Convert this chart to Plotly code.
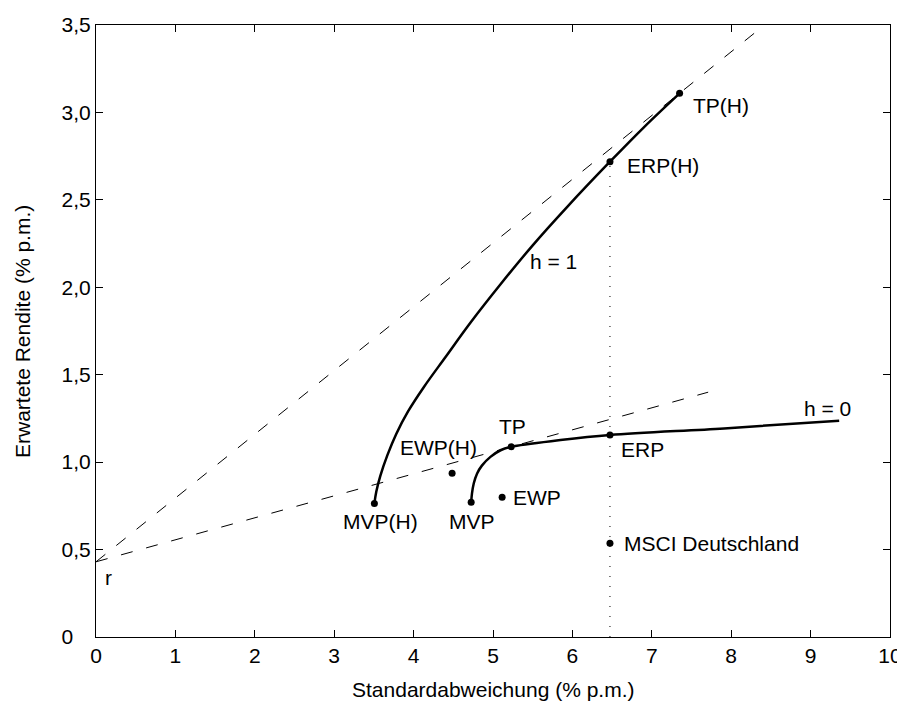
import plotly.graph_objects as go

# Efficient frontier h = 1
h1_sigma = [3.506, 3.53, 3.58, 3.67, 3.78, 3.93, 4.13, 4.40, 4.72, 5.10, 5.50, 5.935, 6.473, 6.90, 7.35]
h1_mu    = [0.764, 0.83, 0.92, 1.04, 1.16, 1.29, 1.43, 1.60, 1.80, 2.02, 2.24, 2.46, 2.718, 2.915, 3.109]

# Efficient frontier h = 0
h0_sigma = [4.725, 4.735, 4.758, 4.80, 4.86, 4.968, 5.095, 5.229, 5.85, 6.473, 7.91, 9.36]
h0_mu    = [0.770, 0.82, 0.879, 0.935, 0.980, 1.030, 1.068, 1.088, 1.126, 1.155, 1.193, 1.237]

# Capital market lines from r
cml_h1_sigma = [0.0, 8.42]
cml_h1_mu    = [0.43, 3.50]
cml_h0_sigma = [0.0, 7.71]
cml_h0_mu    = [0.43, 1.40]

# Vertical dotted line at ERP sigma
vline_sigma = [6.473, 6.473]
vline_mu    = [0.0, 2.718]

# Marked portfolios
pt_names = ["MVP(H)", "MVP", "EWP(H)", "EWP", "TP", "ERP", "ERP(H)", "TP(H)", "MSCI Deutschland"]
pt_sigma = [3.506, 4.725, 4.485, 5.115, 5.229, 6.473, 6.473, 7.35, 6.473]
pt_mu    = [0.764, 0.770, 0.936, 0.799, 1.088, 1.155, 2.718, 3.109, 0.536]

# Text labels
lbl_text  = ["r", "TP(H)", "ERP(H)", "h = 1", "h = 0", "ERP", "MSCI Deutschland", "TP", "EWP(H)", "EWP", "MVP(H)", "MVP"]
lbl_x     = [0.155, 7.49, 6.66, 5.767, 9.21, 6.88, 6.63, 5.24, 4.31, 5.23, 3.58, 4.74]
lbl_y     = [0.341, 3.042, 2.699, 2.146, 1.307, 1.075, 0.536, 1.203, 1.083, 0.799, 0.660, 0.660]
lbl_anchor = ["center", "left", "left", "center", "center", "center", "left", "center", "center", "left", "center", "center"]

x_ticks = [0, 1, 2, 3, 4, 5, 6, 7, 8, 9, 10]
y_ticks = [0, 0.5, 1.0, 1.5, 2.0, 2.5, 3.0, 3.5]
y_ticktext = ["0\u2008\u2007", "0,5", "1,0", "1,5", "2,0", "2,5", "3,0", "3,5"]

x_title = "Standardabweichung (% p.m.)"
y_title = "Erwartete Rendite (% p.m.)"

FONT = "Liberation Sans, Arial, sans-serif"
FS = 21

fig = go.Figure()
fig.add_trace(go.Scatter(x=cml_h1_sigma, y=cml_h1_mu, mode="lines",
                         line=dict(color="black", width=1, dash="12px,14px"), hoverinfo="skip"))
fig.add_trace(go.Scatter(x=cml_h0_sigma, y=cml_h0_mu, mode="lines",
                         line=dict(color="black", width=1, dash="12px,14px"), hoverinfo="skip"))
fig.add_trace(go.Scatter(x=vline_sigma, y=vline_mu, mode="lines",
                         line=dict(color="black", width=1, dash="1px,9px"), hoverinfo="skip"))
fig.add_trace(go.Scatter(x=h1_sigma, y=h1_mu, mode="lines", line_shape="spline",
                         line=dict(color="black", width=2.5)))
fig.add_trace(go.Scatter(x=h0_sigma, y=h0_mu, mode="lines", line_shape="spline",
                         line=dict(color="black", width=2.5)))
fig.add_trace(go.Scatter(x=pt_sigma, y=pt_mu, mode="markers", text=pt_names,
                         marker=dict(color="black", size=7)))

for t, x, y, a in zip(lbl_text, lbl_x, lbl_y, lbl_anchor):
    fig.add_annotation(x=x, y=y, text=t, showarrow=False, xanchor=a, yanchor="middle",
                       font=dict(family=FONT, size=FS, color="black"))

# Axis titles
fig.add_annotation(x=0.5, y=-0.0866, xref="paper", yref="paper", text=x_title, showarrow=False,
                   xanchor="center", yanchor="middle", font=dict(family=FONT, size=FS, color="black"))
fig.add_annotation(x=-0.0932, y=0.5, xref="paper", yref="paper", text=y_title, showarrow=False,
                   textangle=-90, xanchor="center", yanchor="middle",
                   font=dict(family=FONT, size=FS, color="black"))

axis_common = dict(showline=True, linecolor="black", linewidth=1, mirror="allticks",
                   ticks="inside", ticklen=7, tickcolor="black", tickwidth=1,
                   showgrid=False, zeroline=False, automargin=False,
                   tickfont=dict(family=FONT, size=FS, color="black"))

# page body adds an 8px offset; the figure is sized to fit the 905x704 window
fig.update_layout(
    width=897, height=696,
    margin=dict(l=88, r=15, t=17, b=67),
    paper_bgcolor="white", plot_bgcolor="white",
    showlegend=False,
    xaxis=dict(range=[0, 10], tickvals=x_ticks, ticktext=[str(v) for v in x_ticks], **axis_common),
    yaxis=dict(range=[0, 3.5], tickvals=y_ticks, ticktext=y_ticktext, **axis_common),
)

fig.write_html("out.html")
